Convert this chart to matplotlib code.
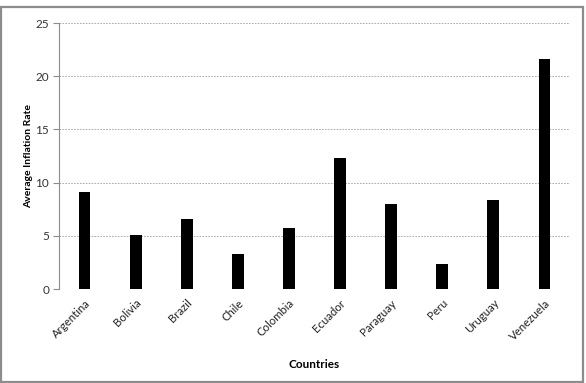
import matplotlib
matplotlib.use("Agg")
import matplotlib.pyplot as plt
from matplotlib.patches import Rectangle

countries = ["Argentina", "Bolivia", "Brazil", "Chile", "Colombia", "Ecuador",
             "Paraguay", "Peru", "Uruguay", "Venezuela"]
inflation = [9.07, 5.04, 6.57, 3.28, 5.69, 12.35, 8.0, 2.38, 8.41, 21.64]
yticks = [0, 5, 10, 15, 20, 25]

plt.rcParams['font.family'] = ['Lato', 'DejaVu Sans']

fig = plt.figure(figsize=(5.86, 3.83), dpi=100)
fig.patch.set_facecolor('white')
# outer chart frame
fig.add_artist(Rectangle((1/586, 1 - 382/383), 582/586, 375/383,
                         transform=fig.transFigure, fill=False,
                         edgecolor='#8c8c8c', linewidth=1.6))

ax = fig.add_axes([59/586, 1 - 289/383, (570 - 59)/586, (289 - 23)/383])
x = list(range(len(countries)))
ax.bar(x, inflation, width=0.23, color='black', zorder=3)

ax.set_xlim(-0.5, len(countries) - 0.5)
ax.set_ylim(0, 25)
ax.set_yticks(yticks)
ax.set_yticklabels([str(t) for t in yticks], fontsize=8.5, color='#333333')
ax.set_xticks(x)
ax.set_xticklabels(countries, rotation=45, ha='right', rotation_mode='anchor',
                   fontsize=8.2, color='#222222')
ax.tick_params(axis='x', length=0, pad=6)
ax.tick_params(axis='y', length=4, color='#8c8c8c', width=0.8, pad=3)

ax.yaxis.grid(True, linestyle=(0, (2, 1.5)), color='#a0a0a0', linewidth=0.6, zorder=0)
for s in ['top', 'right', 'bottom']:
    ax.spines[s].set_visible(False)
ax.spines['left'].set_color('#8c8c8c')
ax.spines['left'].set_linewidth(0.8)

ax.set_ylabel("Average Inflation Rate", fontsize=7.5, fontweight='bold')
ax.yaxis.set_label_coords(-0.05, 0.5)
ax.set_xlabel("Countries", fontsize=8.5, fontweight='bold')
ax.xaxis.set_label_coords(0.5, -0.265)

fig.savefig("out.png", dpi=100, facecolor='white')
